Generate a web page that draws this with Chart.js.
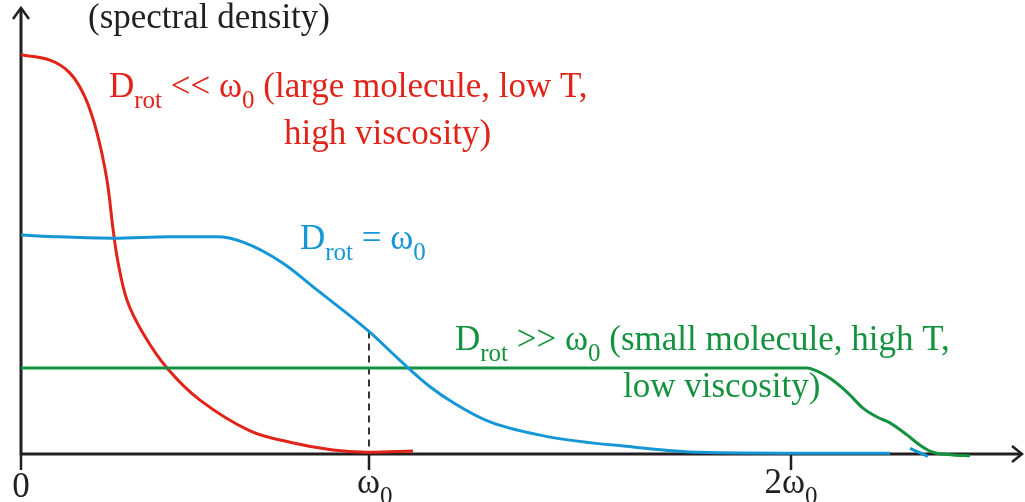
<!DOCTYPE html>
<html>
<head>
<meta charset="utf-8">
<script src="https://cdn.jsdelivr.net/npm/chart.js@4.4.0/dist/chart.umd.min.js"></script>
<style>
  html, body { margin: 0; padding: 0; background: #fff; }
  #wrap { width: 1025px; height: 502px; position: relative; }
</style>
</head>
<body>
<div id="wrap"><canvas id="spec"></canvas></div>
<script>
// frequency axis in arbitrary units, omega0 / 2omega0 ticks
const tickValues = [0, 34.8, 77.0];
const tickLabels = [["0"], ["ω", "0"], ["2ω", "0"]];

// D_rot << omega0 (large molecule, low T, high viscosity)
const slowX = [0, 2.9, 4.9, 6.4, 7.6, 8.6, 9.2, 9.7, 10.6, 12.2, 14.6, 17.9, 22.9, 27.0, 31.2, 34.6, 39.2];
const slowY = [89.5, 88.3, 85.4, 80.0, 72.0, 61.4, 50.5, 43.0, 34.5, 27.1, 19.3, 12.1, 5.2, 2.6, 0.9, 0.4, 0.7];

// D_rot = omega0
const midX = [0, 3.9, 9.2, 14.9, 19.6, 22.2, 26.2, 29.6, 34.8, 37.9, 40.9, 43.4, 46.9, 52.9, 61.2, 67.9, 77.9, 86.9, 88.0, 88.9, 90.7];
const midY = [49.1, 48.7, 48.4, 48.7, 48.7, 47.5, 42.8, 36.8, 27.5, 21.0, 15.1, 11.3, 7.2, 3.8, 1.6, 0.4, 0.2, 0.2, null, 1.3, -0.5];

// D_rot >> omega0 (small molecule, high T, low viscosity)
const fastX = [0, 78.6, 79.4, 80.9, 82.6, 84.2, 85.6, 86.9, 88.6, 89.9, 91.2, 93.2, 94.9];
const fastY = [19.3, 19.3, 18.8, 17.0, 13.9, 10.3, 8.3, 7.0, 4.3, 2.0, 0.4, -0.2, -0.4];

const toPoints = (xs, ys) => xs.map((x, i) => ({ x: x, y: ys[i] }));

const INK = "#231f20";
const RED = "#e2231a";
const BLUE = "#1597d5";
const GREEN = "#14923f";

// annotation text, each line is a list of [text, isSubscript]
const notes = [
    { color: INK, x: 88, y: 28, parts: [["(spectral density)", false]] },
    { color: RED, x: 109, y: 97, parts: [["D", false], ["rot", true], [" << ω", false], ["0", true], [" (large molecule, low T,", false]] },
    { color: RED, x: 284, y: 144, parts: [["high viscosity)", false]] },
    { color: BLUE, x: 300, y: 249, parts: [["D", false], ["rot", true], [" = ω", false], ["0", true]] },
    { color: GREEN, x: 455, y: 350, parts: [["D", false], ["rot", true], [" >> ω", false], ["0", true], [" (small molecule, high T,", false]] },
    { color: GREEN, x: 623, y: 397, parts: [["low viscosity)", false]] },
];

const BIG = "35px 'Liberation Serif', 'Times New Roman', serif";
const SMALL = "25px 'Liberation Serif', 'Times New Roman', serif";

function richWidth(ctx, parts) {
    let w = 0;
    for (const [t, sub] of parts) {
        ctx.font = sub ? SMALL : BIG;
        w += ctx.measureText(t).width;
    }
    return w;
}

function drawRich(ctx, parts, x, y) {
    let cx = x;
    for (const [t, sub] of parts) {
        ctx.font = sub ? SMALL : BIG;
        ctx.fillText(t, cx, sub ? y + 11 : y);
        cx += ctx.measureText(t).width;
    }
}

// axes, arrows, ticks and the dashed omega0 marker
const axesPlugin = {
    id: "axes",
    beforeDatasetsDraw(chart) {
        const ctx = chart.ctx;
        const xs = chart.scales.x, ys = chart.scales.y;
        const x0 = xs.getPixelForValue(0), y0 = ys.getPixelForValue(0);
        const xEnd = 1022, yTop = 8;
        ctx.save();
        ctx.strokeStyle = INK;
        ctx.lineWidth = 3;
        ctx.lineCap = "butt";
        ctx.beginPath();
        ctx.moveTo(x0, y0 + 1);
        ctx.lineTo(x0, yTop + 1);
        ctx.moveTo(x0 - 1, y0);
        ctx.lineTo(xEnd - 1, y0);
        ctx.stroke();
        ctx.lineWidth = 2.5;
        ctx.beginPath();
        ctx.moveTo(x0 - 8, yTop + 11);
        ctx.lineTo(x0, yTop);
        ctx.lineTo(x0 + 8, yTop + 11);
        ctx.moveTo(xEnd - 10, y0 - 8);
        ctx.lineTo(xEnd, y0);
        ctx.lineTo(xEnd - 10, y0 + 8);
        ctx.stroke();

        // ticks below the axis
        ctx.lineWidth = 2.5;
        ctx.beginPath();
        for (const v of tickValues) {
            const px = xs.getPixelForValue(v);
            ctx.moveTo(px, y0);
            ctx.lineTo(px, y0 + 16);
        }
        ctx.stroke();

        // dashed drop line from the D_rot = omega0 curve at omega0
        const w0 = tickValues[1];
        const top = midY[midX.indexOf(w0)];
        ctx.lineWidth = 1.8;
        ctx.setLineDash([7, 5]);
        ctx.beginPath();
        ctx.moveTo(xs.getPixelForValue(w0), ys.getPixelForValue(top));
        ctx.lineTo(xs.getPixelForValue(w0), y0);
        ctx.stroke();
        ctx.restore();
    },
    afterDatasetsDraw(chart) {
        const ctx = chart.ctx;
        const xs = chart.scales.x;
        ctx.save();
        ctx.textBaseline = "alphabetic";
        ctx.textAlign = "left";
        ctx.fillStyle = INK;
        tickLabels.forEach((lab, i) => {
            const parts = lab.map((t, j) => [t, j === 1]);
            const px = xs.getPixelForValue(tickValues[i]);
            let w = richWidth(ctx, parts);
            let left = px - w / 2;
            if (i === 1) left = px - 12;
            drawRich(ctx, parts, left, i === 0 ? 497 : 493);
        });
        for (const n of notes) {
            ctx.fillStyle = n.color;
            drawRich(ctx, n.parts, n.x, n.y);
        }
        ctx.restore();
    }
};

new Chart(document.getElementById("spec"), {
    type: "line",
    plugins: [axesPlugin],
    data: {
        datasets: [
            { data: toPoints(midX, midY), borderColor: BLUE },
            { data: toPoints(fastX, fastY), borderColor: GREEN },
            { data: toPoints(slowX, slowY), borderColor: RED, cubicInterpolationMode: "default", tension: 0.35 },
        ],
    },
    options: {
        responsive: true,
        maintainAspectRatio: false,
        animation: false,
        layout: { padding: { left: 21, right: 4, top: 8, bottom: 39 } },
        elements: {
            point: { radius: 0 },
            line: { borderWidth: 3, cubicInterpolationMode: "monotone", fill: false },
        },
        scales: {
            x: { type: "linear", min: 0, max: 100, display: false },
            y: { type: "linear", min: -2, max: 100, display: false },
        },
        plugins: {
            legend: { display: false },
            tooltip: { enabled: false },
        },
    },
});
</script>
</body>
</html>
